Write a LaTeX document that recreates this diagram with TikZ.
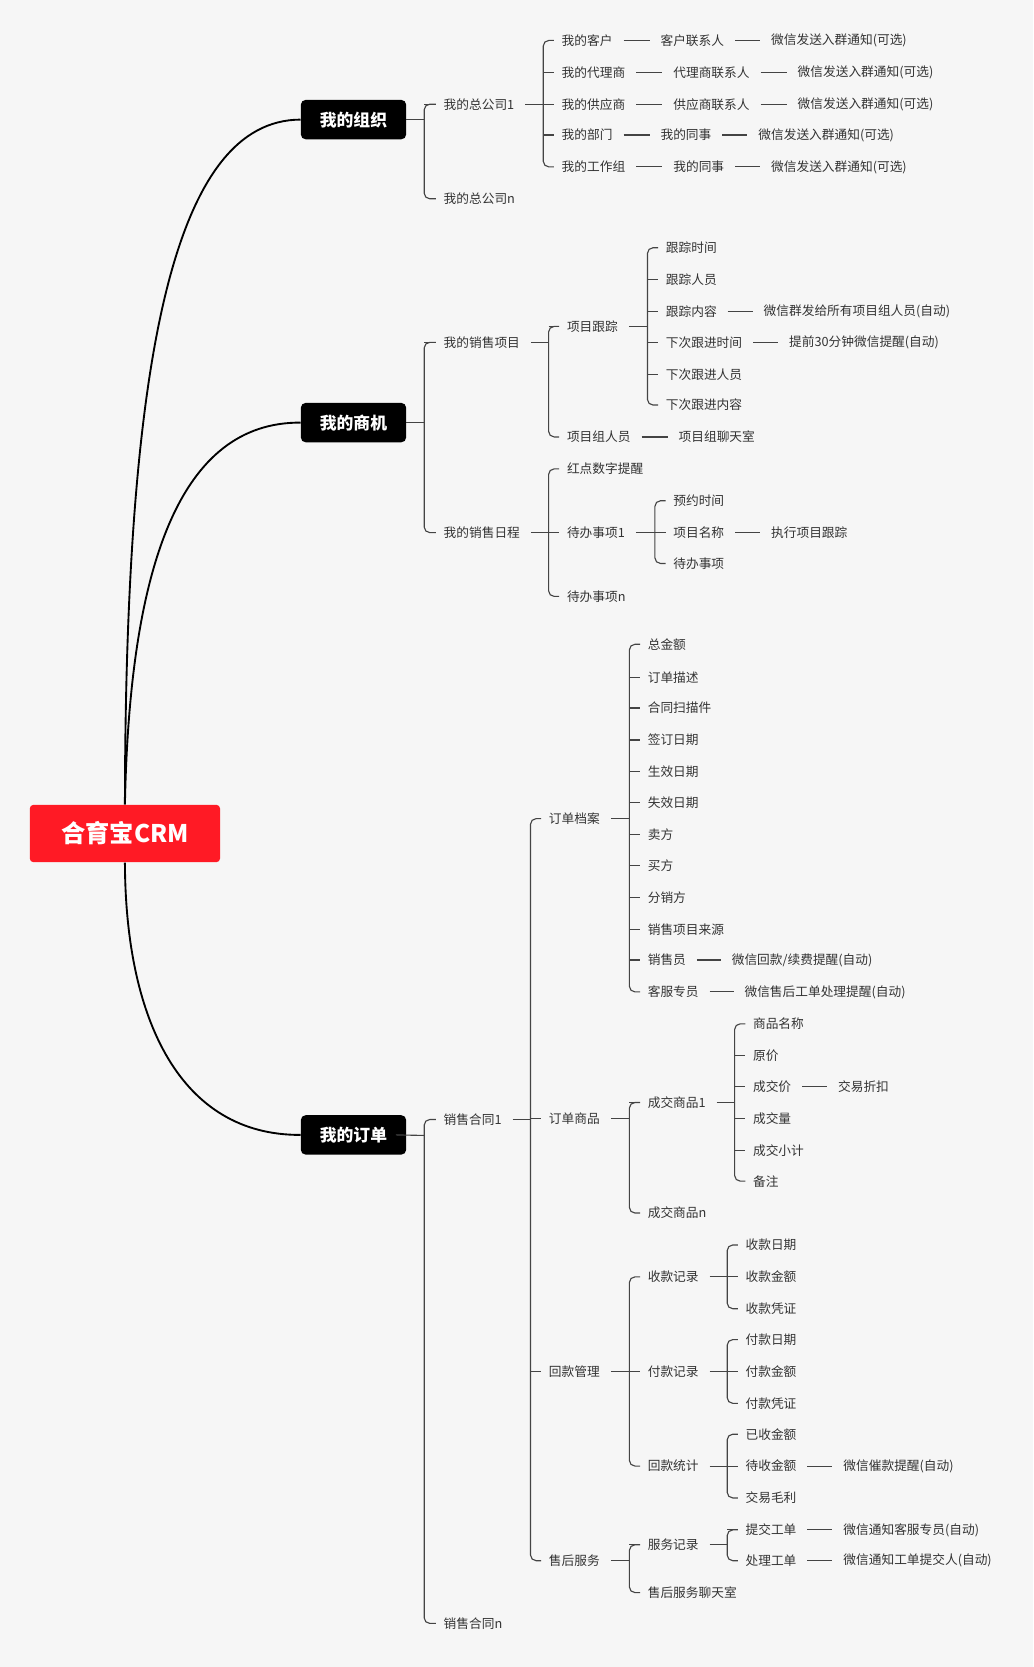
\documentclass[tikz,border=0pt]{standalone}
\usepackage{fontspec}
\setmainfont{Noto Sans CJK SC}
\begin{document}
\begin{tikzpicture}[x=0.02cm,y=-0.02cm]
\definecolor{bg}{HTML}{F6F6F6}\definecolor{txt}{HTML}{333333}\definecolor{lc}{HTML}{444444}\definecolor{rd}{HTML}{FF1A25}
\tikzset{t/.style={anchor=west,inner sep=0pt,text=txt,font=\fontsize{6.8pt}{8pt}\selectfont},
 ln/.style={draw=lc,line width=0.6pt},
 bx/.style={fill=black,text=white,rounded corners=2.5pt,minimum width=1.98cm,minimum height=0.74cm,font=\fontsize{9pt}{10pt}\selectfont\bfseries,inner sep=0pt}}
\newcommand\brk[5]{\coordinate (bx) at (#2,0);
 \draw[ln] ([xshift=0.2cm]#1.east) -- (bx|-#1.east);
 \draw[ln,rounded corners=3pt] ([xshift=-0.14cm]#3.west) -- (bx|-#3.west) -- (bx|-#4.west) -- ([xshift=-0.14cm]#4.west);
 \foreach \c in {#5} {\draw[ln] (bx|-\c.west) -- ([xshift=-0.14cm]\c.west);}}
\newcommand\ch[2]{\draw[ln] ([xshift=0.2cm]#1.east) -- ([xshift=-0.2cm]#2.west);}
\fill[bg] (0,0) rectangle (972,1568);
\useasboundingbox (0,0) rectangle (972,1568);
\node[fill=rd,text=white,rounded corners=2pt,minimum width=3.58cm,minimum height=1.08cm,font=\fontsize{13pt}{14pt}\selectfont\bfseries,inner sep=0pt] (root) at (117.5,784) {合育宝CRM};
\node[bx] (org) at (332.5,112.5) {我的组织};
\node[bx] (opp) at (332.5,397.5) {我的商机};
\node[bx] (ord) at (332.5,1067.5) {我的订单};
\coordinate (orgE) at ([xshift=-0.2cm]org.east);
\coordinate (oppE) at ([xshift=-0.2cm]opp.east);
\coordinate (ordE) at ([xshift=-0.2cm]ord.east);
\draw[line width=1pt] (root.north) .. controls (118,330) and (165,113) .. (org.west);
\draw[line width=1pt] (root.north) .. controls (122,530) and (170,397) .. (opp.west);
\draw[line width=1pt] (root.south) .. controls (118,960) and (170,1068) .. (ord.west);
% org
\node[t] (h1) at (417,98) {我的总公司1};
\node[t] (hn) at (417,187) {我的总公司n};
\brk{orgE}{399}{h1}{hn}{h1}
\node[t] (a1) at (528,38) {我的客户};
\node[t] (a2) at (528,68) {我的代理商};
\node[t] (a3) at (528,98) {我的供应商};
\node[t] (a4) at (528,127) {我的部门};
\node[t] (a5) at (528,157) {我的工作组};
\brk{h1}{511}{a1}{a5}{a2,a3,a4}
\node[t] (b1) at (621,38) {客户联系人};
\node[t] (b2) at (633,68) {代理商联系人};
\node[t] (b3) at (633,98) {供应商联系人};
\node[t] (b4) at (621,127) {我的同事};
\node[t] (b5) at (633,157) {我的同事};
\node[t] (c1) at (725,38) {微信发送入群通知(可选)};
\node[t] (c2) at (750,68) {微信发送入群通知(可选)};
\node[t] (c3) at (750,98) {微信发送入群通知(可选)};
\node[t] (c4) at (713,127) {微信发送入群通知(可选)};
\node[t] (c5) at (725,157) {微信发送入群通知(可选)};
\foreach \i in {1,...,5}{\ch{a\i}{b\i}\ch{b\i}{c\i}}
% opp
\node[t] (sp) at (417,322) {我的销售项目};
\node[t] (sr) at (417,501) {我的销售日程};
\brk{oppE}{399}{sp}{sr}{sp}
\node[t] (xg) at (533,307) {项目跟踪};
\node[t] (xz) at (533,411) {项目组人员};
\brk{sp}{516}{xg}{xz}{xg}
\node[t] (g1) at (626,233) {跟踪时间};
\node[t] (g2) at (626,263) {跟踪人员};
\node[t] (g3) at (626,293) {跟踪内容};
\node[t] (g4) at (626,322) {下次跟进时间};
\node[t] (g5) at (626,352) {下次跟进人员};
\node[t] (g6) at (626,381) {下次跟进内容};
\brk{xg}{609}{g1}{g6}{g2,g3,g4,g5}
\node[t] (g3a) at (718,293) {微信群发给所有项目组人员(自动)};
\node[t] (g4a) at (742,322) {提前30分钟微信提醒(自动)};
\ch{g3}{g3a}\ch{g4}{g4a}
\node[t] (xza) at (638,411) {项目组聊天室};
\ch{xz}{xza}
\node[t] (r1) at (533,441) {红点数字提醒};
\node[t] (r2) at (533,501) {待办事项1};
\node[t] (r3) at (533,561) {待办事项n};
\brk{sr}{516}{r1}{r3}{r2}
\node[t] (d1) at (633,471) {预约时间};
\node[t] (d2) at (633,501) {项目名称};
\node[t] (d3) at (633,530) {待办事项};
\brk{r2}{616}{d1}{d3}{d2}
\node[t] (d2a) at (725,501) {执行项目跟踪};
\ch{d2}{d2a}
% orders
\node[t] (k1) at (417,1053) {销售合同1};
\node[t] (kn) at (417,1527) {销售合同n};
\draw[ln] (ordE.east) -- (399,1068);
\draw[ln,rounded corners=3pt] ([xshift=-0.14cm]k1.west) -- (399,1053) -- (399,1527) -- ([xshift=-0.14cm]kn.west);
\node[t] (m1) at (516,770) {订单档案};
\node[t] (m2) at (516,1052) {订单商品};
\node[t] (m3) at (516,1290) {回款管理};
\node[t] (m4) at (516,1468) {售后服务};
\brk{k1}{499}{m1}{m4}{m2,m3}
\foreach \n/\y/\s in {1/606/总金额,2/637/订单描述,3/666/合同扫描件,4/696/签订日期,5/726/生效日期,6/755/失效日期,7/785/卖方,8/814/买方,9/844/分销方,10/874/销售项目来源,11/903/销售员,12/933/客服专员}
 {\node[t] (f\n) at (609,\y) {\s};}
\brk{m1}{592}{f1}{f12}{f2,f3,f4,f5,f6,f7,f8,f9,f10,f11}
\node[t] (f11a) at (688,903) {微信回款/续费提醒(自动)};
\node[t] (f12a) at (700,933) {微信售后工单处理提醒(自动)};
\ch{f11}{f11a}\ch{f12}{f12a}
\node[t] (p1) at (609,1037) {成交商品1};
\node[t] (pn) at (609,1141) {成交商品n};
\brk{m2}{592}{p1}{pn}{p1}
\foreach \n/\y/\s in {1/963/商品名称,2/993/原价,3/1022/成交价,4/1052/成交量,5/1082/成交小计,6/1111/备注}
 {\node[t] (q\n) at (708,\y) {\s};}
\brk{p1}{691}{q1}{q6}{q2,q3,q4,q5}
\node[t] (q3a) at (788,1022) {交易折扣};
\ch{q3}{q3a}
\node[t] (s1) at (609,1201) {收款记录};
\node[t] (s2) at (609,1290) {付款记录};
\node[t] (s3) at (609,1379) {回款统计};
\brk{m3}{592}{s1}{s3}{s2}
\node[t] (u1) at (701,1171) {收款日期};
\node[t] (u2) at (701,1201) {收款金额};
\node[t] (u3) at (701,1231) {收款凭证};
\brk{s1}{684}{u1}{u3}{u2}
\node[t] (v1) at (701,1260) {付款日期};
\node[t] (v2) at (701,1290) {付款金额};
\node[t] (v3) at (701,1320) {付款凭证};
\brk{s2}{684}{v1}{v3}{v2}
\node[t] (w1) at (701,1349) {已收金额};
\node[t] (w2) at (701,1379) {待收金额};
\node[t] (w3) at (701,1409) {交易毛利};
\brk{s3}{684}{w1}{w3}{w2}
\node[t] (w2a) at (793,1379) {微信催款提醒(自动)};
\ch{w2}{w2a}
\node[t] (y1) at (609,1453) {服务记录};
\node[t] (y2) at (609,1498) {售后服务聊天室};
\brk{m4}{592}{y1}{y2}{y1}
\node[t] (z1) at (701,1439) {提交工单};
\node[t] (z2) at (701,1468) {处理工单};
\brk{y1}{684}{z1}{z2}{z1}
\node[t] (z1a) at (793,1439) {微信通知客服专员(自动)};
\node[t] (z2a) at (793,1468) {微信通知工单提交人(自动)};
\ch{z1}{z1a}\ch{z2}{z2a}
\end{tikzpicture}
\end{document}
